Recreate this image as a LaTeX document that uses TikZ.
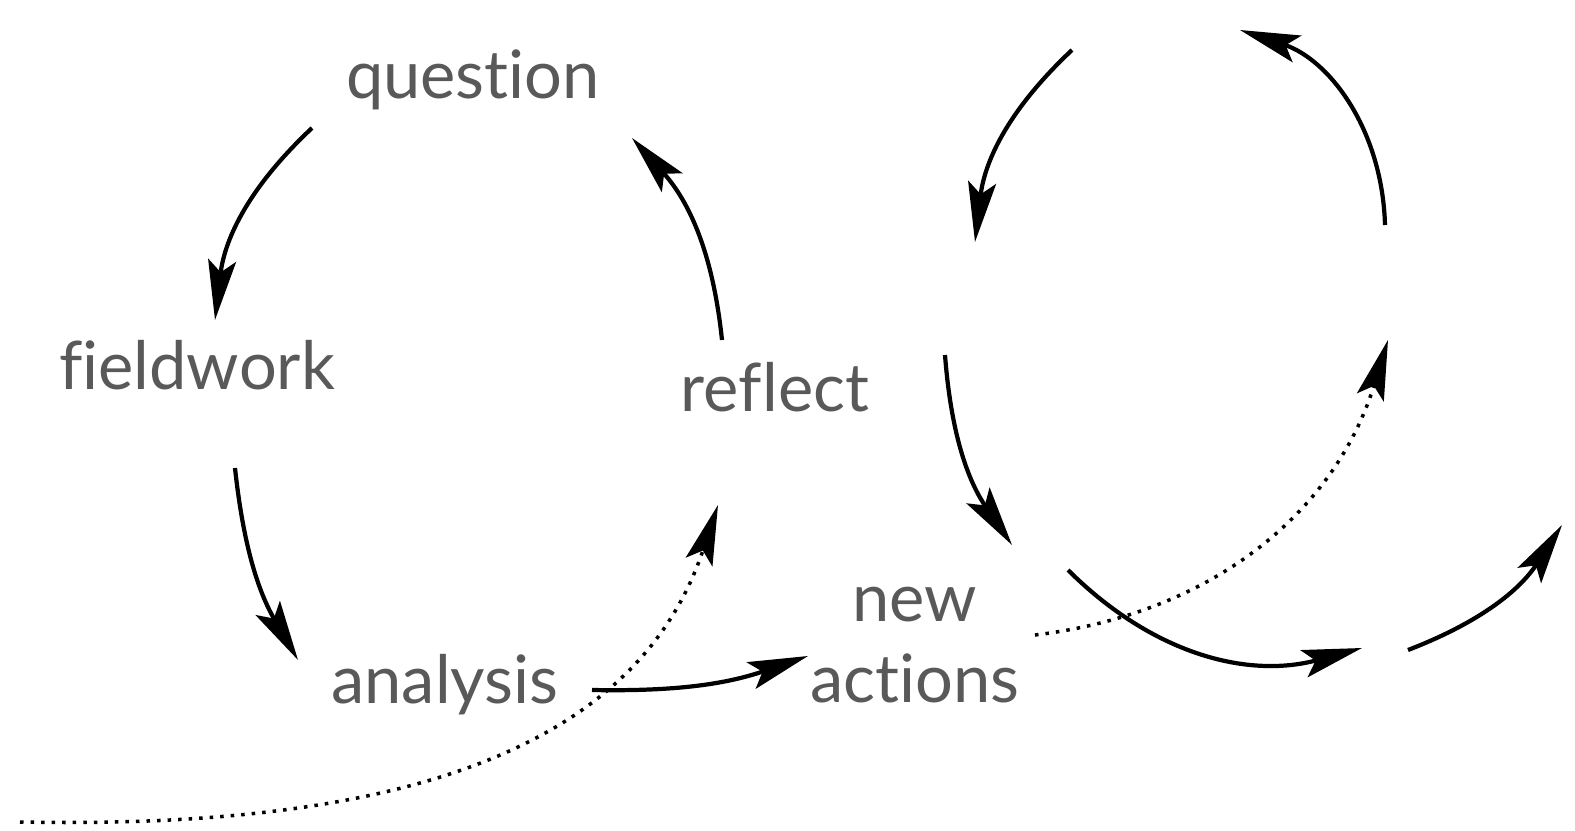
\documentclass[tikz,border=0pt]{standalone}
\usepackage{fontspec}
\setmainfont{Lato}[Ligatures=NoCommon]
\usetikzlibrary{arrows.meta}

\begin{document}
\begin{tikzpicture}[auto,
    word/.style ={text=black!65, inner sep = 0pt, font=\fontsize{19}{23}\selectfont},
    loop/.style ={line width=1.2pt, -{Stealth[length=6mm, width=2.8mm, inset=1.2mm]}},
    hint/.style ={line width=1pt, dotted, -{Stealth[length=6mm, width=2.8mm, inset=1.2mm]}}]
   \useasboundingbox (0,0) rectangle (15.75,-8.31);

   \node[word] (question) at (4.73,-0.80) {question};
   \node[word] (fieldwork) at (1.97,-3.65) {fieldwork};
   \node[word] (reflect) at (7.75,-3.87) {reflect};
   \node[word] (analysis) at (4.45,-6.85) {analysis};
   \node[word, align=center] (newactions) at (9.15,-6.45) {new\\actions};

   % ends of the arrows
   \coordinate (q1) at (3.12,-1.28);
   \coordinate (f1) at (2.15,-3.20);
   \coordinate (f2) at (2.35,-4.68);
   \coordinate (a1) at (2.98,-6.60);
   \coordinate (a2) at (5.92,-6.90);
   \coordinate (n1) at (8.08,-6.56);
   \coordinate (r1) at (7.22,-3.40);
   \coordinate (q2) at (6.32,-1.38);
   \coordinate (s0) at (0.20,-8.22);
   \coordinate (r2) at (7.18,-5.05);

   \coordinate (R1) at (10.72,-0.50);
   \coordinate (R2) at (9.75,-2.42);
   \coordinate (R3) at (13.85,-2.25);
   \coordinate (R4) at (12.40,-0.30);
   \coordinate (R5) at (9.45,-3.55);
   \coordinate (R6) at (10.12,-5.45);
   \coordinate (R7) at (10.68,-5.70);
   \coordinate (R8) at (13.62,-6.48);
   \coordinate (n2) at (10.35,-6.35);
   \coordinate (R9) at (13.88,-3.40);
   \coordinate (R10) at (14.08,-6.50);
   \coordinate (R11) at (15.62,-5.25);

   \draw[loop] (q1) to [bend right = 20] (f1);
   \draw[loop] (f2) to [bend right = 12] (a1);
   \draw[loop] (r1) to [bend right = 18] (q2);
   \draw[loop] (a2) to [bend right = 10] (n1);
   \draw[hint] (s0) .. controls (4.2,-8.3) and (6.4,-7.4) .. (r2);

   \draw[loop] (R1) to [bend right = 20] (R2);
   \draw[loop] (R3) to [bend right = 35] (R4);
   \draw[loop] (R5) to [bend right = 15] (R6);
   \draw[loop] (R7) to [bend right = 30] (R8);
   \draw[hint] (n2) to [bend right = 33] (R9);
   \draw[loop] (R10) to [bend right = 18] (R11);
 \end{tikzpicture}
\end{document}
